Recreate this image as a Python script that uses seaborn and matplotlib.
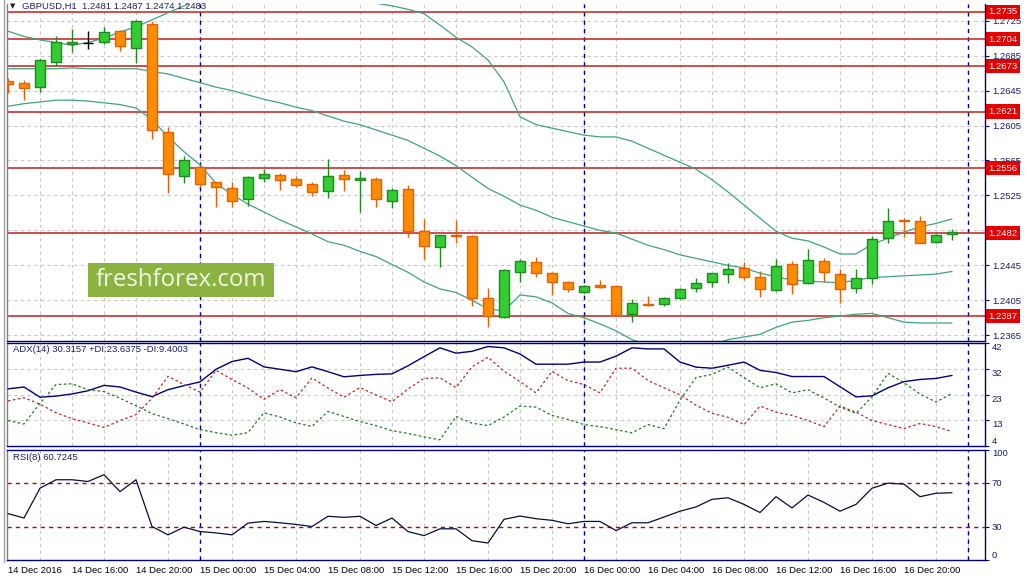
import numpy as np
import pandas as pd
import matplotlib
matplotlib.use("Agg")
import matplotlib.pyplot as plt
import matplotlib.transforms as mtransforms
from matplotlib.patches import Rectangle
from matplotlib.lines import Line2D
import seaborn as sns

# ---------------- data (GBPUSD H1, 14 Dec 12:00 -> 16 Dec 23:00) ----------------
opens = [1.26560, 1.26537, 1.26491, 1.26777, 1.26983, 1.26995, 1.27006, 1.27132, 1.26938, 1.27212,
         1.25976, 1.25472, 1.25575, 1.25404, 1.25335, 1.25209, 1.25449, 1.25484, 1.25438, 1.25381,
         1.25301, 1.25484, 1.25427, 1.25438, 1.25186, 1.25324, 1.24843, 1.24660, 1.24797, 1.24786,
         1.24076, 1.23858, 1.24373, 1.24488, 1.24362, 1.24259, 1.24145, 1.24225, 1.24213, 1.23893,
         1.24002, 1.24007, 1.24076, 1.24190, 1.24259, 1.24351, 1.24419, 1.24316, 1.24167, 1.24465,
         1.24248, 1.24499, 1.24351, 1.24190, 1.24305, 1.24763, 1.24969, 1.24957, 1.24717, 1.24810]
highs = [1.26594, 1.26571, 1.26812, 1.27075, 1.27155, 1.27132, 1.27178, 1.27144, 1.27258, 1.27247,
         1.26033, 1.25701, 1.25575, 1.25404, 1.25404, 1.25472, 1.25553, 1.25507, 1.25472, 1.25404,
         1.25667, 1.25541, 1.25530, 1.25461, 1.25335, 1.25369, 1.24980, 1.24797, 1.24969, 1.24797,
         1.24190, 1.24408, 1.24522, 1.24545, 1.24368, 1.24270, 1.24225, 1.24282, 1.24213, 1.24064,
         1.24099, 1.24087, 1.24190, 1.24305, 1.24362, 1.24476, 1.24488, 1.24385, 1.24522, 1.24499,
         1.24637, 1.24534, 1.24408, 1.24408, 1.24786, 1.25106, 1.24992, 1.25014, 1.24808, 1.24870]
lows = [1.26422, 1.26342, 1.26434, 1.26731, 1.26892, 1.26926, 1.26983, 1.26903, 1.26766, 1.25896,
        1.25278, 1.25392, 1.25346, 1.25118, 1.25118, 1.25129, 1.25404, 1.25312, 1.25346, 1.25243,
        1.25221, 1.25301, 1.25060, 1.25118, 1.25106, 1.24774, 1.24522, 1.24431, 1.24705, 1.23984,
        1.23744, 1.23847, 1.24259, 1.24316, 1.24110, 1.24145, 1.24133, 1.24190, 1.23881, 1.23801,
        1.23984, 1.23984, 1.24064, 1.24145, 1.24202, 1.24248, 1.24282, 1.24087, 1.24156, 1.24122,
        1.24236, 1.24259, 1.24019, 1.24133, 1.24236, 1.24705, 1.24774, 1.24700, 1.24705, 1.24740]
closes = [1.26525, 1.26480, 1.26800, 1.27006, 1.27006, 1.26995, 1.27121, 1.26960, 1.27247, 1.25999,
          1.25495, 1.25656, 1.25381, 1.25346, 1.25186, 1.25461, 1.25495, 1.25427, 1.25369, 1.25289,
          1.25472, 1.25438, 1.25449, 1.25209, 1.25312, 1.24843, 1.24671, 1.24797, 1.24791, 1.24076,
          1.23870, 1.24396, 1.24499, 1.24362, 1.24259, 1.24179, 1.24213, 1.24202, 1.23881, 1.24019,
          1.23996, 1.24076, 1.24179, 1.24248, 1.24362, 1.24408, 1.24316, 1.24179, 1.24442, 1.24236,
          1.24511, 1.24373, 1.24179, 1.24305, 1.24751, 1.24957, 1.24952, 1.24705, 1.24797, 1.24830]

bb_upper = [1.2713, 1.2707, 1.2703, 1.2700, 1.2697, 1.2700, 1.2705, 1.2712, 1.2718, 1.2726,
            1.2734, 1.2742, 1.2750, 1.2758, 1.2765, 1.2769, 1.2772, 1.2772, 1.2769, 1.2765,
            1.2759, 1.2753, 1.2749, 1.2745, 1.2742, 1.2738, 1.2733, 1.2720, 1.2706, 1.2695,
            1.2680, 1.2655, 1.2615, 1.2606, 1.2602, 1.2598, 1.2594, 1.2592, 1.2592, 1.2587,
            1.2579, 1.2571, 1.2563, 1.2555, 1.2543, 1.2529, 1.2514, 1.2499, 1.2484, 1.2476,
            1.2473, 1.2466, 1.2458, 1.2458, 1.2469, 1.2476, 1.2483, 1.2489, 1.2493, 1.2498]
bb_middle = [1.2670, 1.2670, 1.2670, 1.2670, 1.2671, 1.2670, 1.2670, 1.2670, 1.2670, 1.2667,
             1.2664, 1.2659, 1.2654, 1.2649, 1.2645, 1.2640, 1.2635, 1.2631, 1.2626, 1.2622,
             1.2616, 1.2610, 1.2606, 1.2600, 1.2594, 1.2588, 1.2579, 1.2570, 1.2559, 1.2546,
             1.2533, 1.2524, 1.2514, 1.2508, 1.2500, 1.2495, 1.2490, 1.2485, 1.2482, 1.2475,
             1.2468, 1.2463, 1.2457, 1.2453, 1.2449, 1.2445, 1.2442, 1.2436, 1.2432, 1.2428,
             1.2427, 1.2426, 1.2425, 1.2428, 1.2431, 1.2432, 1.2433, 1.2434, 1.2435, 1.2438]
bb_lower = [1.2627, 1.2630, 1.2632, 1.2634, 1.2634, 1.2633, 1.2631, 1.2629, 1.2625, 1.2612,
            1.2592, 1.2575, 1.2560, 1.2539, 1.2526, 1.2515, 1.2506, 1.2497, 1.2489, 1.2481,
            1.2472, 1.2468, 1.2461, 1.2455, 1.2446, 1.2437, 1.2426, 1.2418, 1.2414, 1.2405,
            1.2395, 1.2393, 1.2411, 1.2409, 1.2402, 1.2390, 1.2385, 1.2378, 1.2370, 1.2360,
            1.2354, 1.2348, 1.2346, 1.2348, 1.2354, 1.2360, 1.2363, 1.2366, 1.2374, 1.2380,
            1.2382, 1.2385, 1.2387, 1.2389, 1.2390, 1.2385, 1.2380, 1.2379, 1.2379, 1.2379]

levels = [1.2735, 1.2704, 1.2673, 1.2621, 1.2556, 1.2482, 1.2387]
price_ticks = [1.2725, 1.2685, 1.2645, 1.2605, 1.2565, 1.2525, 1.2485, 1.2445, 1.2405, 1.2365]
hidden_price_ticks = [1.2485]   # covered by the 1.2482 level box in the reference

adx = [25.3, 26.0, 22.2, 22.6, 23.4, 24.6, 26.6, 26.0, 24.1, 22.4,
       25.0, 26.5, 27.9, 32.6, 35.5, 36.7, 33.5, 32.6, 31.7, 33.5,
       31.7, 29.8, 30.3, 30.7, 30.9, 33.9, 37.3, 40.6, 38.6, 39.3,
       41.1, 40.6, 38.3, 34.5, 34.5, 34.5, 35.3, 35.3, 37.5, 40.6,
       40.2, 40.2, 35.3, 33.4, 33.0, 34.1, 35.3, 32.2, 31.4, 29.9,
       29.9, 29.9, 26.1, 22.3, 22.7, 25.7, 28.0, 28.8, 29.2, 30.3]
plus_di = [13.5, 12.2, 19.9, 26.9, 27.2, 25.0, 24.3, 21.8, 19.0, 16.1,
           14.2, 12.2, 10.1, 9.0, 8.0, 9.0, 16.4, 14.8, 12.6, 11.3,
           16.9, 15.0, 13.1, 11.6, 9.7, 8.7, 7.4, 6.3, 15.0, 12.5,
           11.6, 14.8, 18.9, 18.5, 15.4, 13.9, 12.0, 11.2, 10.1, 8.9,
           12.0, 10.5, 21.1, 29.5, 30.7, 33.4, 29.5, 25.7, 27.2, 23.8,
           25.0, 21.9, 18.5, 16.2, 22.3, 31.1, 27.6, 23.4, 20.4, 23.6]
minus_di = [20.8, 22.0, 19.6, 16.4, 14.2, 12.6, 10.9, 13.5, 15.7, 21.8,
            30.0, 26.9, 24.1, 32.2, 28.8, 25.6, 21.4, 25.0, 22.0, 29.4,
            25.6, 22.2, 25.8, 23.0, 20.5, 25.3, 29.2, 29.4, 25.8, 33.5,
            37.1, 31.9, 28.0, 23.8, 31.8, 28.4, 26.9, 23.8, 33.0, 33.0,
            28.4, 25.7, 23.1, 19.2, 16.2, 14.7, 12.0, 18.9, 16.6, 15.4,
            13.5, 11.2, 18.9, 16.6, 13.5, 12.0, 10.5, 12.4, 11.2, 9.4]
adx_ticks = [42.4, 32.8, 23.2, 13.6, 4.0]
adx_tick_labels = ["42", "32", "23", "13", "4"]

rsi = [41.7, 37.7, 64.8, 72.5, 72.5, 70.9, 77.1, 61.7, 72.5, 30.0,
       22.4, 29.4, 25.4, 24.2, 22.4, 33.1, 34.6, 33.4, 31.9, 30.0,
       39.3, 38.3, 39.3, 30.9, 37.7, 25.4, 21.7, 27.9, 27.9, 17.1,
       15.0, 36.5, 39.5, 37.1, 35.6, 32.5, 34.6, 34.6, 26.3, 33.4,
       33.4, 38.6, 43.9, 47.8, 54.7, 56.1, 50.1, 42.7, 57.1, 46.9,
       58.6, 51.9, 43.9, 50.1, 64.8, 69.4, 68.5, 57.1, 60.2, 60.7]
rsi_levels = [70, 30]
rsi_ticks = [100, 70, 30, 0]

time_labels = ["14 Dec 2016", "14 Dec 16:00", "14 Dec 20:00", "15 Dec 00:00", "15 Dec 04:00",
               "15 Dec 08:00", "15 Dec 12:00", "15 Dec 16:00", "15 Dec 20:00", "16 Dec 00:00",
               "16 Dec 04:00", "16 Dec 08:00", "16 Dec 12:00", "16 Dec 16:00", "16 Dec 20:00"]
time_label_bars = [0, 4, 8, 12, 16, 20, 24, 28, 32, 36, 40, 44, 48, 52, 56]
day_separators = [12, 36, 60]

# ---------------- style ----------------
sns.set_style("white")
plt.rcParams['font.family'] = ['Liberation Sans', 'DejaVu Sans']
FS = 6.8
NAVY = '#000080'
LBL = '#1B1B6B'
GRID = '#C8C8C8'

W, H = 1027, 579
fig = plt.figure(figsize=(W / 100, H / 100), dpi=100)
fig.patch.set_facecolor('white')
L, R = 7, 985
ax_main = fig.add_axes([L / W, 1 - 341 / H, (R - L) / W, 337 / H])
ax_adx = fig.add_axes([L / W, 1 - 446 / H, (R - L) / W, 103 / H])
ax_rsi = fig.add_axes([L / W, 1 - 559.5 / H, (R - L) / W, 110 / H])
axes = [ax_main, ax_adx, ax_rsi]

n = len(closes)
xs = np.arange(n)
df = pd.DataFrame({'x': xs, 'open': opens, 'high': highs, 'low': lows, 'close': closes})

for ax in axes:
    ax.set_facecolor('white')
    ax.set_xlim(-0.0625, 61.0625)
    for s in ['left', 'right', 'top', 'bottom']:
        ax.spines[s].set_color(NAVY)
        ax.spines[s].set_linewidth(1.0)
    ax.spines['left'].set_color('#808080')
    ax.yaxis.tick_right()
    ax.tick_params(axis='y', which='major', direction='out', length=3, width=0.8,
                   colors=NAVY, labelcolor=LBL, labelsize=FS, pad=2)
    ax.set_xticks(np.arange(0, 62, 2), minor=True)
    ax.grid(which='minor', axis='x', color=GRID, linestyle=(0, (3, 3)), linewidth=0.8)
    ax.grid(which='major', axis='x', visible=False)
    ax.tick_params(axis='x', which='minor', length=0)
    for sep in day_separators:
        ax.axvline(sep, color=NAVY, linestyle=(0, (3, 3)), linewidth=1.0, zorder=2.3)
    ax.set_axisbelow(True)
ax_main.spines['top'].set_visible(False)

# ---------------- main price panel ----------------
ax_main.set_ylim(1.23584, 1.27441)
ax_main.set_yticks(price_ticks)
ax_main.set_yticklabels(["" if t in hidden_price_ticks else f"{t:.4f}" for t in price_ticks])
ax_main.grid(which='major', axis='y', color=GRID, linestyle=(0, (3, 3)), linewidth=0.8)
ax_main.tick_params(axis='x', which='both', labelbottom=False, length=0)

for band in (bb_upper, bb_middle, bb_lower):
    sns.lineplot(x=xs, y=band, ax=ax_main, color='#3FA57C', linewidth=0.9, legend=False, zorder=2.5)

for lv in levels:
    ax_main.axhline(lv, color='#C41E1E', linewidth=1.1, zorder=2.4)

up = df['close'] > df['open']
dn = df['close'] < df['open']
body_col = np.where(up, '#32CD32', np.where(dn, '#FF8C00', '#000000'))
edge_col = np.where(up, '#1E8A1E', np.where(dn, '#E5600A', '#000000'))
ax_main.vlines(df['x'], df['low'], df['high'], colors=edge_col, linewidth=1.0, zorder=3)
ax_main.bar(df['x'], df['close'] - df['open'], bottom=df['open'], width=0.62,
            color=body_col, edgecolor=edge_col, linewidth=1.0, zorder=4)

btrans = mtransforms.blended_transform_factory(ax_main.transAxes, ax_main.transData)
for lv in levels:
    ax_main.text(1.0035, lv, f"{lv:.4f}", transform=btrans, ha='left', va='center',
                 fontsize=FS, color='white', clip_on=False, zorder=10,
                 bbox=dict(boxstyle='square,pad=0.28', fc='#E50000', ec='none'))

# ---------------- ADX panel ----------------
ax_adx.set_ylim(4.0, 42.4)
ax_adx.set_yticks(adx_ticks)
ax_adx.set_yticklabels(adx_tick_labels)
for lab in ax_adx.get_yticklabels():
    lab.set_verticalalignment('top')
ax_adx.get_yticklabels()[-1].set_verticalalignment('bottom')
ax_adx.grid(which='major', axis='y', color=GRID, linestyle=(0, (3, 3)), linewidth=0.8)
ax_adx.tick_params(axis='x', which='both', labelbottom=False, length=0)
sns.lineplot(x=xs, y=adx, ax=ax_adx, color='#000080', linewidth=1.0, legend=False, zorder=4)
sns.lineplot(x=xs, y=plus_di, ax=ax_adx, color='#1E7A1E', linewidth=0.9,
             linestyle=(0, (2, 2)), legend=False, zorder=4)
sns.lineplot(x=xs, y=minus_di, ax=ax_adx, color='#C0281E', linewidth=0.9,
             linestyle=(0, (2, 2)), legend=False, zorder=4)

# ---------------- RSI panel ----------------
ax_rsi.set_ylim(0, 100)
ax_rsi.set_yticks(rsi_ticks)
ax_rsi.set_yticklabels([str(t) for t in rsi_ticks])
rl = ax_rsi.get_yticklabels()
rl[0].set_verticalalignment('top')
rl[-1].set_verticalalignment('bottom')
ax_rsi.grid(which='major', axis='y', visible=False)
for lv in rsi_levels:
    ax_rsi.axhline(lv, color='#C00000', linestyle=(0, (3, 3)), linewidth=1.0, zorder=2.4)
sns.lineplot(x=xs, y=rsi, ax=ax_rsi, color='#0A0A40', linewidth=0.9, legend=False, zorder=4)
ax_rsi.set_xticks(time_label_bars)
ax_rsi.set_xticklabels(time_labels)
ax_rsi.tick_params(axis='x', which='major', direction='out', length=3, width=0.8,
                   colors=NAVY, labelcolor='black', labelsize=FS, pad=2)
for lab in ax_rsi.get_xticklabels():
    lab.set_horizontalalignment('left')

for ax in axes:
    ax.set_xlabel('')
    ax.set_ylabel('')

# ---------------- header texts & watermark ----------------
fig.text(10 / W, 1 - 6 / H, '▼', fontsize=5, color='#202020', va='center', ha='left',
         family=['DejaVu Sans'])
fig.text(22 / W, 1 - 6 / H, 'GBPUSD,H1  1.2481 1.2487 1.2474 1.2483', fontsize=FS,
         color='#24245E', va='center', ha='left')
fig.text(13 / W, 1 - 350 / H, 'ADX(14) 30.3157 +DI:23.6375 -DI:9.4003', fontsize=FS,
         color='#1B1B6B', va='center', ha='left')
fig.text(13 / W, 1 - 458 / H, 'RSI(8) 60.7245', fontsize=FS,
         color='#1B1B6B', va='center', ha='left')

fig.add_artist(Rectangle((88 / W, 1 - 297 / H), 186 / W, 34 / H, transform=fig.transFigure,
                         facecolor='#8CB23F', edgecolor='none', zorder=5))
fig.text(181 / W, 1 - 280 / H, 'freshforex.com', fontsize=17.3, color='#F3F7E9',
         ha='center', va='center', family=['Open Sans', 'DejaVu Sans'], zorder=6)

fig.add_artist(Line2D([3.5 / W, 3.5 / W], [0.03, 1.0], transform=fig.transFigure,
                      color='#A0A0A0', linewidth=1.0))

fig.savefig('out.png', dpi=100, facecolor='white')
